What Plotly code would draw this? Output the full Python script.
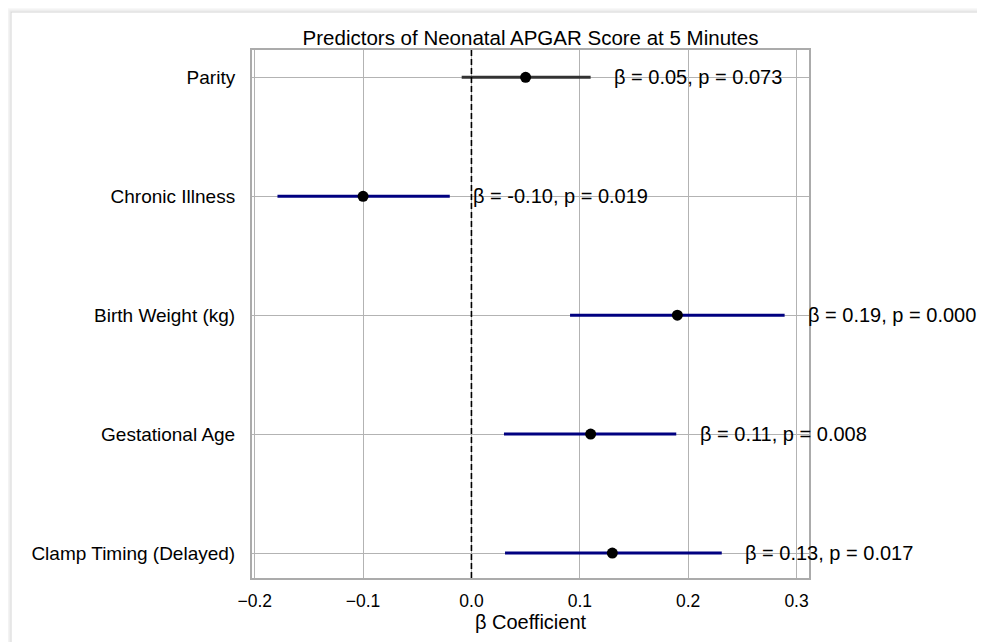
import plotly.graph_objects as go

# ---- data ----
predictors = ["Parity", "Chronic Illness", "Birth Weight (kg)", "Gestational Age", "Clamp Timing (Delayed)"]
beta = [0.05, -0.10, 0.19, 0.11, 0.13]
ci_lower = [-0.009, -0.179, 0.091, 0.030, 0.031]
ci_upper = [0.110, -0.020, 0.289, 0.189, 0.231]
p_values = [0.073, 0.019, 0.000, 0.008, 0.017]
x_ticks = [-0.2, -0.1, 0.0, 0.1, 0.2, 0.3]

FONT = "Liberation Sans, Arial, Helvetica, sans-serif"
# page has an 8px body margin, so the figure is slightly smaller than the window
W, H = 977, 634
ML, MR, MT, MB = 244, 176, 42, 64

fig = go.Figure()

for name, lo, hi, p in zip(predictors, ci_lower, ci_upper, p_values):
    color = "#000080" if p < 0.05 else "#333333"
    fig.add_trace(go.Scatter(
        x=[lo, hi], y=[name, name], mode="lines",
        line=dict(color=color, width=3), showlegend=False, hoverinfo="skip"))

fig.add_trace(go.Scatter(
    x=beta, y=predictors, mode="markers",
    marker=dict(color="black", size=11), showlegend=False))

for name, b, hi, p in zip(predictors, beta, ci_upper, p_values):
    fig.add_annotation(
        x=hi + 0.02, y=name, xref="x", yref="y",
        text=f"β = {b:.2f}, p = {p:.3f}", showarrow=False,
        xanchor="left", yanchor="middle",
        font=dict(family=FONT, size=20, color="black"))

# zero reference line
fig.add_shape(type="line", xref="x", yref="paper", x0=0, x1=0, y0=0, y1=1,
              line=dict(color="black", width=1.6, dash="6px,3px"))

# card border with soft shadow (page decoration)
pw = W - ML - MR
ph = H - MT - MB
def px_to_paper_x(px):
    return (px - ML) / pw
def px_to_paper_y(py):
    return 1 + (MT - py) / ph
shadow = ["#d4d4d4", "#e2e2e2", "#ebebeb", "#f2f2f2", "#f7f7f7"]
for i, c in enumerate(shadow):
    xl = px_to_paper_x(3 - i)
    yt = px_to_paper_y(4 - i)
    fig.add_shape(type="line", xref="paper", yref="paper", layer="below",
                  x0=xl, x1=xl, y0=px_to_paper_y(H + 5), y1=yt,
                  line=dict(color=c, width=1))
    fig.add_shape(type="line", xref="paper", yref="paper", layer="below",
                  x0=xl, x1=px_to_paper_x(W + 5), y0=yt, y1=yt,
                  line=dict(color=c, width=1))

fig.update_layout(
    width=W, height=H,
    margin=dict(l=ML, r=MR, t=MT, b=MB),
    paper_bgcolor="white", plot_bgcolor="white",
    font=dict(family=FONT, size=19, color="black"),
    title=dict(text="Predictors of Neonatal APGAR Score at 5 Minutes",
               x=0.5, xref="paper", xanchor="center",
               y=1 - 30 / H, yref="container", yanchor="middle",
               font=dict(family=FONT, size=20.5, color="black")),
    xaxis=dict(range=[-0.2025, 0.3115], tickvals=x_ticks,
               tickformat=".1f",
               showgrid=True, gridcolor="#b3b3b3", gridwidth=1,
               zeroline=False, showline=True, mirror=True,
               linecolor="#ababab", linewidth=2,
               ticks="outside", ticklen=6, tickcolor="rgba(0,0,0,0)",
               tickfont=dict(family=FONT, size=17.5, color="black"),
               title=dict(text="β Coefficient", standoff=4,
                          font=dict(family=FONT, size=20, color="black"))),
    yaxis=dict(categoryorder="array", categoryarray=predictors,
               range=[4.21, -0.23],
               showgrid=True, gridcolor="#b3b3b3", gridwidth=1,
               zeroline=False, showline=True, mirror=True,
               linecolor="#ababab", linewidth=2,
               ticks="outside", ticklen=11, tickcolor="rgba(0,0,0,0)",
               tickfont=dict(family=FONT, size=19, color="black")),
)

fig.write_html("out.html")
